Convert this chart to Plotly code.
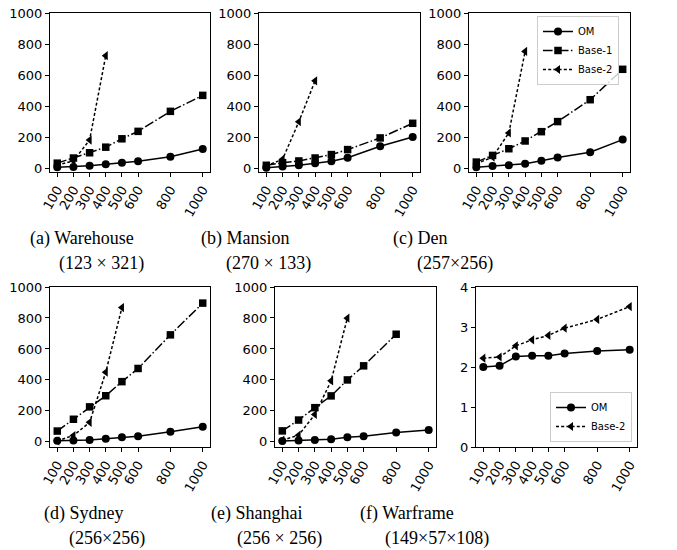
import plotly.graph_objects as go

x = [100, 200, 300, 400, 500, 600, 800, 1000]
x_ticks = [100, 200, 300, 400, 500, 600, 800, 1000]
x_labels = ["100", "200", "300", "400", "500", "600", "800", "1000"]

# (a) Warehouse
wh_om = [5, 8, 15, 25, 35, 45, 73, 123]
wh_b1 = [32, 65, 99, 135, 189, 237, 366, 469]
wh_b2 = [20, 47, 181, 725]
# (b) Mansion
ma_om = [6, 13, 21, 34, 47, 70, 143, 203]
ma_b1 = [21, 38, 49, 68, 90, 122, 197, 291]
ma_b2 = [17, 60, 301, 564]
# (c) Den
de_om = [6, 13, 19, 28, 48, 69, 102, 184]
de_b1 = [39, 82, 125, 175, 235, 300, 441, 637]
de_b2 = [28, 71, 227, 752]
# (d) Sydney
sy_om = [7, 9, 13, 20, 30, 37, 65, 98]
sy_b1 = [70, 146, 226, 298, 389, 474, 691, 896]
sy_b2 = [7, 41, 126, 450, 867]
# (e) Shanghai
sh_om = [6, 9, 13, 17, 30, 37, 61, 76]
sh_b1 = [71, 141, 221, 297, 400, 491, 695]
sh_b2 = [11, 43, 177, 394, 799]
# (f) Warframe
wf_om = [2.00, 2.03, 2.26, 2.28, 2.28, 2.34, 2.40, 2.43]
wf_b2 = [2.22, 2.25, 2.53, 2.68, 2.79, 2.97, 3.19, 3.51]

captions = [
    ("(a) Warehouse", "(123 × 321)"),
    ("(b) Mansion", "(270 × 133)"),
    ("(c) Den", "(257×256)"),
    ("(d) Sydney", "(256×256)"),
    ("(e) Shanghai", "(256 × 256)"),
    ("(f) Warframe", "(149×57×108)"),
]

W, H = 677, 550
fig = go.Figure()

styles = {
    "OM": dict(dash="solid", symbol="circle"),
    "Base-1": dict(dash="9.6px,2.4px,1.5px,2.4px", symbol="square"),
    "Base-2": dict(dash="3px,2.2px", symbol="triangle-left"),
}

panels = [
    ([("OM", wh_om), ("Base-1", wh_b1), ("Base-2", wh_b2)], (50, 210), (13, 172), [-25, 1000], None),
    ([("OM", ma_om), ("Base-1", ma_b1), ("Base-2", ma_b2)], (259, 420), (13, 172), [-22, 1000], None),
    ([("OM", de_om), ("Base-1", de_b1), ("Base-2", de_b2)], (469, 630), (13, 172), [-25, 1000], "legend"),
    ([("OM", sy_om), ("Base-1", sy_b1), ("Base-2", sy_b2)], (50, 210), (287, 447), [-33, 1000], None),
    ([("OM", sh_om), ("Base-1", sh_b1), ("Base-2", sh_b2)], (275, 436), (287, 447), [-33, 1000], None),
    ([("OM", wf_om), ("Base-2", wf_b2)], (476, 637), (287, 447), [0, 4], "legend2"),
]

layout = {}
for i, (series, xd, yd, yr, leg) in enumerate(panels):
    n = i + 1
    xa = "x" if n == 1 else f"x{n}"
    ya = "y" if n == 1 else f"y{n}"
    for name, vals in series:
        st = styles[name]
        tr = dict(
            x=x[: len(vals)], y=vals, name=name, mode="lines+markers",
            line=dict(color="black", width=1.5, dash=st["dash"]),
            marker=dict(color="black", size=8 if st["symbol"] != "square" else 7.5, symbol=st["symbol"]),
            xaxis=xa, yaxis=ya,
            showlegend=leg in ("legend", "legend2"),
        )
        if leg == "legend2":
            tr["legend"] = "legend2"
        fig.add_trace(go.Scatter(**tr))
    axname = "" if n == 1 else str(n)
    common = dict(showline=True, mirror=True, linecolor="black", linewidth=1,
                  ticks="outside", ticklen=4, tickcolor="black", tickwidth=1,
                  showgrid=False, zeroline=False, automargin=False,
                  tickfont=dict(family="DejaVu Sans", size=13, color="black"))
    layout[f"xaxis{axname}"] = dict(
        domain=[xd[0] / W, xd[1] / W], range=[55, 1045], anchor=ya,
        tickvals=x_ticks, ticktext=x_labels, tickangle=-60, **common)
    if yr[1] == 4:
        yt = dict(tickvals=[0, 1, 2, 3, 4])
    else:
        yt = dict(tickvals=[0, 200, 400, 600, 800, 1000])
    layout[f"yaxis{axname}"] = dict(
        domain=[1 - yd[1] / H, 1 - yd[0] / H], range=yr, anchor=xa, **yt, **common)

fig.update_layout(**layout)

caption_pos = [
    (28, 238, 57, 263),
    (199, 238, 224, 263),
    (391, 238, 415, 263),
    (42, 513, 67, 538),
    (209, 513, 235, 538),
    (358, 513, 383, 538),
]
for (t1, t2), (x1, y1, x2, y2) in zip(captions, caption_pos):
    for t, xx, yy in ((t1, x1, y1), (t2, x2, y2)):
        fig.add_annotation(text=t, x=xx / W, y=1 - yy / H, xref="paper", yref="paper",
                           xanchor="left", yanchor="middle", showarrow=False,
                           font=dict(family="Liberation Serif", size=18, color="black"))

fig.update_layout(
    width=W, height=H, margin=dict(l=0, r=0, t=0, b=0, pad=0, autoexpand=False),
    paper_bgcolor="white", plot_bgcolor="white",
    legend=dict(x=619 / W, y=1 - 16 / H, xanchor="right", yanchor="top",
                bgcolor="rgba(255,255,255,0.8)", bordercolor="#cccccc", borderwidth=1,
                font=dict(family="DejaVu Sans", size=10, color="black"),
                tracegroupgap=0, itemwidth=30),
    legend2=dict(x=632 / W, y=1 - 442 / H, xanchor="right", yanchor="bottom",
                 bgcolor="rgba(255,255,255,0.8)", bordercolor="#cccccc", borderwidth=1,
                 font=dict(family="DejaVu Sans", size=10, color="black"),
                 tracegroupgap=0, itemwidth=30),
)

fig.write_html("out.html", config={"displayModeBar": False},
               post_script="document.body.style.margin='0px';")
